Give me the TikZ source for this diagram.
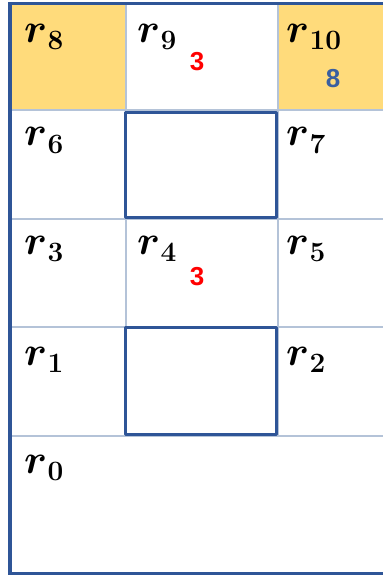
\RequirePackage{fix-cm}
\documentclass[tikz,border=0pt]{standalone}
\usepackage{fontspec}
\usepackage{bm}
\newfontfamily\numfont{Liberation Sans}
\definecolor{frame}{HTML}{2F5597}
\definecolor{gridc}{HTML}{B4C3D8}
\definecolor{hl}{HTML}{FFDB7B}
\definecolor{numblue}{HTML}{3A5FA0}
\newcommand{\rlab}[1]{$\bm{r}$\kern0.5pt\raisebox{-7pt}{\fontsize{28}{30}\selectfont\bfseries #1}}
\begin{document}
\begin{tikzpicture}[x=1pt,y=-1pt,
  lbl/.style={anchor=base west, inner sep=0pt, font=\fontsize{41}{44}\selectfont},
  num/.style={inner sep=0pt, font=\numfont\bfseries\fontsize{26}{28}\selectfont},
  gridline/.style={draw=gridc, line width=1.2pt},
  thick box/.style={draw=frame, line width=3.8pt, line join=round},
  outer/.style={draw=frame, line width=3.8pt}]
\useasboundingbox (0,0) rectangle (383,575);
% highlighted cells
\fill[hl] (11,4) rectangle (126,110);
\fill[hl] (278,4) rectangle (383,110);
% grid lines
\draw[gridline] (11,110) -- (383,110);
\draw[gridline] (11,219) -- (383,219);
\draw[gridline] (11,327) -- (383,327);
\draw[gridline] (11,436) -- (383,436);
\draw[gridline] (126,4) -- (126,436);
\draw[gridline] (278,4) -- (278,436);
% thick boxes
\draw[thick box] (125.5,112.5) rectangle (276.5,217.5);
\draw[thick box] (125.5,327.5) rectangle (276.5,434.5);
% outer frame (open on the right)
\draw[outer] (383,3.5) -- (10,3.5) -- (10,573.5) -- (383,573.5);
% labels
\node[lbl] (r8) at (24,43) {\rlab{8}};
\node[lbl] (r9) at (137,43) {\rlab{9}};
\node[lbl] (r10) at (286,43) {\rlab{10}};
\node[lbl] (r6) at (24,146) {\rlab{6}};
\node[lbl] (r7) at (286,146) {\rlab{7}};
\node[lbl] (r3) at (24,254) {\rlab{3}};
\node[lbl] (r4) at (137,254) {\rlab{4}};
\node[lbl] (r5) at (286,254) {\rlab{5}};
\node[lbl] (r1) at (24,365) {\rlab{1}};
\node[lbl] (r2) at (286,365) {\rlab{2}};
\node[lbl] (r0) at (24,473) {\rlab{0}};
% numbers
\node[num, text=red] (n9) at (197,61.5) {3};
\node[num, text=numblue] (n10) at (333,79) {8};
\node[num, text=red] (n4) at (197,277) {3};
\end{tikzpicture}
\end{document}
